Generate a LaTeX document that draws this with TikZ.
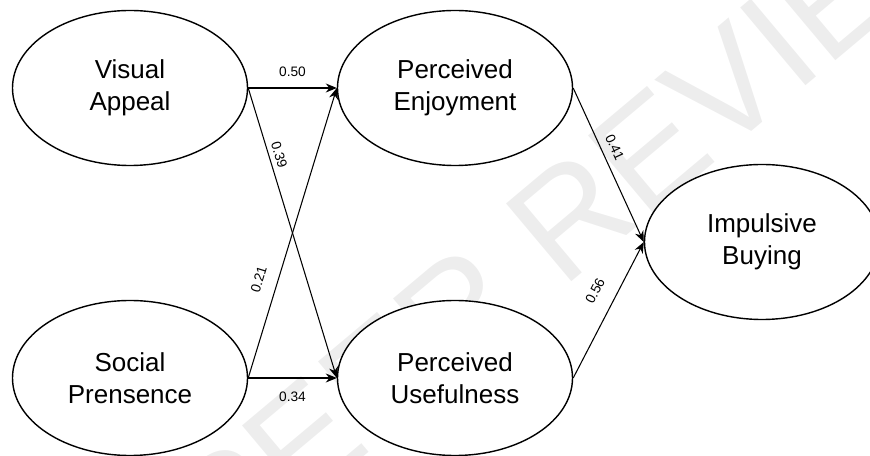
\documentclass[tikz,border=0pt]{standalone}
\usepackage{fontspec}
\setmainfont{Liberation Sans}
\usetikzlibrary{arrows.meta}
\usetikzlibrary{shapes.geometric}

\begin{document}
\begin{tikzpicture}[
      construct/.style={ellipse, draw, fill=white, line width=.8pt,
        minimum width=4.7cm, minimum height=3.1cm, inner sep=0pt,
        align=center, font=\fontsize{14.8}{18.2}\selectfont},
      effect/.style={line width=.6pt,
        -{Stealth[length=2.2mm, width=1.8mm, inset=.7mm]}},
      coef/.style={font=\fontsize{7.8}{9}\selectfont, inner sep=1pt},
      every node/.style={}]

        \useasboundingbox (0,0) rectangle (17.4,9.12);
        \clip (0,0) rectangle (17.4,9.12);

        % watermark
        \node[text=gray!14, rotate=40, anchor=base,
              font=\fontsize{84}{84}\selectfont] (wm) at (12.32,4.22) {PEER REVIEW};

        \node[construct] (va) at (2.6,7.36) {Visual\\Appeal};
        \node[construct] (sp) at (2.6,1.56) {Social\\Prensence};

        \node[construct] (pe) at (9.1,7.36) {Perceived\\Enjoyment};
        \node[construct] (pu) at (9.1,1.56) {Perceived\\Usefulness};

        \node[construct] (ib) at (15.24,4.28) {Impulsive\\Buying};

        % paths
        \draw[effect] (va.east) -- node[coef, above=.18cm] {0.50} (pe.west);
        \draw[effect] (va.east) -- node[coef, pos=.24, sloped, above=.06cm] {0.39} (pu.west);
        \draw[effect] (sp.east) -- node[coef, pos=.32, sloped, above=.23cm] {0.21} (pe.west);
        \draw[effect] (sp.east) -- node[coef, below=.24cm] {0.34} (pu.west);

        \draw[effect] (pe.east) -- node[coef, pos=.42, sloped, above=.12cm] {0.41} (ib.west);
        \draw[effect] (pu.east) -- node[coef, pos=.57, sloped, above=.27cm] {0.56} (ib.west);

      \end{tikzpicture}
\end{document}
